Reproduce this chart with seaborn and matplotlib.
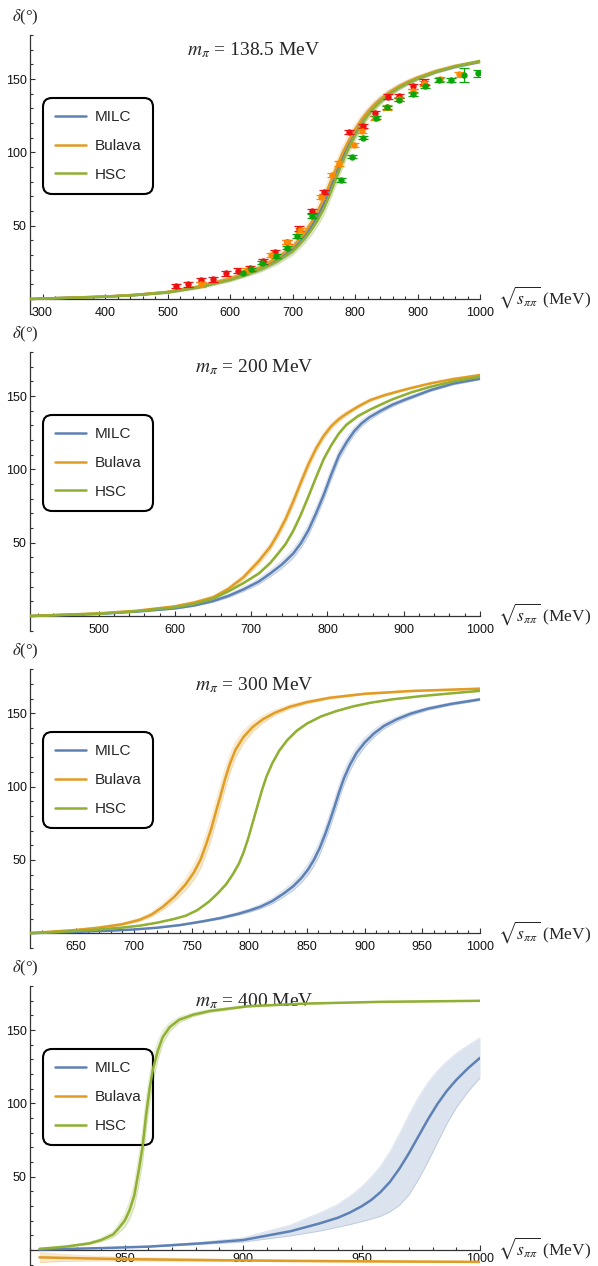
import numpy as np
import matplotlib
matplotlib.use("Agg")
import matplotlib.pyplot as plt
from matplotlib.ticker import MultipleLocator, FixedLocator
import seaborn as sns

# ---------------- data ----------------
SERIES = ["MILC", "Bulava", "HSC"]
COLORS = {"MILC": "#5E81B5", "Bulava": "#E19C24", "HSC": "#8FB032"}
PION_MASSES = ["138.5", "200", "300", "400"]
X_RANGES = [(280, 1000), (410, 1000), (610, 1000), (810, 1000)]
X_MAJOR = [100, 100, 50, 50]
X_MINOR = [20, 20, 10, 10]
Y_TICKS = [50, 100, 150]

# panel 1: m_pi = 138.5 MeV
P1_X = [280, 300, 350, 400, 450, 500, 550, 600, 625, 650, 675, 700, 710, 720,
        730, 740, 750, 760, 770, 780, 790, 800, 810, 820, 830, 840, 855, 870,
        885, 900, 930, 960, 1000]
P1_MILC = [0, 0.3, 1.0, 1.6, 2.8, 4.6, 8.2, 13.5, 17, 21, 26.6, 34, 38.5, 43.5,
           49.5, 56.5, 65, 75, 86, 96.5, 105.5, 113.5, 120.5, 126.3, 131.2,
           135.3, 140.3, 144.3, 147.6, 150.4, 155, 158.4, 161.8]
P1_BULAVA = [0, 0.3, 1.0, 1.7, 2.9, 4.8, 8.5, 14, 17.6, 22, 28, 35.5, 40.3,
             45.5, 52, 59.5, 68.5, 79, 89.5, 99.5, 108, 115.5, 122, 127.5,
             132.2, 136, 141, 145, 148.2, 151, 155.5, 158.8, 162]
P1_HSC = [0, 0.3, 0.9, 1.5, 2.7, 4.5, 8, 13, 16.4, 20.3, 25.5, 32.5, 36.8, 41.5,
          47, 53.5, 61.5, 71.5, 82.5, 93.5, 103, 111.5, 118.8, 125, 130.2,
          134.5, 139.8, 144, 147.4, 150.3, 155, 158.6, 162.2]
P1_BAND = [0, 0.1, 0.3, 0.4, 0.6, 0.8, 1, 1.3, 1.5, 1.8, 2.2, 2.8, 3, 3.3, 3.6,
           4, 4.5, 4.5, 4.5, 4.3, 4, 3.6, 3.2, 2.8, 2.5, 2.3, 2, 1.7, 1.5, 1.3,
           1.1, 1, 0.9]

# experimental points (panel 1)
RED_X = [513, 533, 553, 573, 593, 612, 632, 652, 672, 691, 711, 731, 750, 790,
         813, 832, 852, 871, 892, 911]
RED_Y = [8.9, 10, 13, 13.4, 17.5, 19.3, 20.9, 25.7, 32, 39, 48, 60, 73, 114,
         118, 126.6, 138, 138.6, 145, 148.2]
RED_ERR = [1.5] * 20
ORANGE_X = [553, 626, 665, 691, 712, 745, 763, 774, 799, 811, 832, 851, 871,
            892, 911, 936, 966]
ORANGE_Y = [10, 19.3, 30, 38.7, 47, 69.7, 84.5, 92.5, 105, 114.5, 123.6, 130.7,
            136.4, 142, 147, 149.8, 153.2]
ORANGE_ERR = [1.5] * 17
GREEN_X = [620, 633, 651, 673, 691, 707, 731, 777, 795, 813, 834, 851, 871, 892,
           912, 934, 954, 975, 996]
GREEN_Y = [18, 20.2, 24.8, 29.3, 35, 43, 56.6, 81, 97, 110, 123.6, 130.7, 136,
           139.8, 145, 149.3, 149.3, 152.7, 153.9]
GREEN_ERR = [1.2, 1.2, 1.2, 1.2, 1.2, 1.2, 1.2, 1.2, 1.2, 1.2, 1.2, 1.2, 1.2,
             1.2, 1.2, 1.2, 1.2, 4.8, 2.5]

# panel 2: m_pi = 200 MeV
P2_BULAVA_X = [410, 450, 500, 550, 600, 625, 650, 670, 690, 710, 725, 735, 745,
               755, 765, 775, 785, 795, 805, 815, 825, 840, 856, 875, 891, 910,
               935, 965, 1000]
P2_BULAVA_Y = [0, 0.8, 1.8, 3.6, 6.6, 9.2, 12.8, 18.5, 26.5, 37.5, 47.2, 56, 66,
               78, 91, 103.5, 114.2, 122.8, 129.5, 134.3, 138, 142.8, 147.2,
               150.6, 152.9, 155.5, 158.6, 161.6, 164.3]
P2_BULAVA_B = [0, 0.1, 0.2, 0.3, 0.5, 0.7, 1, 1.3, 1.7, 2.2, 2.5, 2.8, 3, 3.2,
               3.2, 3, 2.7, 2.3, 2, 1.7, 1.5, 1.2, 1, 0.8, 0.7, 0.6, 0.5, 0.45,
               0.4]
P2_HSC_X = [410, 450, 500, 550, 600, 625, 650, 670, 690, 710, 725, 735, 745, 755,
            765, 775, 785, 795, 805, 815, 825, 840, 855, 870, 885, 910, 935, 965,
            1000]
P2_HSC_Y = [0, 0.7, 1.6, 3.3, 5.9, 8.2, 11.8, 16.8, 22.5, 29, 36.2, 42.5, 49,
            58, 69, 81.5, 94.5, 107, 116.5, 124.5, 130.5, 136.3, 140.5, 144.2,
            147.7, 152.5, 156.3, 160, 163.2]
P2_HSC_B = [0, 0.05, 0.1, 0.2, 0.3, 0.35, 0.4, 0.5, 0.6, 0.7, 0.8, 0.9, 1, 1.1,
            1.2, 1.2, 1.2, 1.1, 1, 0.9, 0.8, 0.7, 0.6, 0.5, 0.4, 0.35, 0.3, 0.3,
            0.3]
P2_MILC_X = [410, 450, 500, 550, 600, 625, 650, 670, 690, 710, 725, 740, 755,
             765, 775, 785, 795, 805, 815, 825, 835, 845, 855, 870, 885, 900,
             935, 965, 1000]
P2_MILC_Y = [0, 0.6, 1.4, 3, 5.2, 7.2, 10.2, 13.7, 18.2, 23.5, 29, 35, 42.5,
             49.5, 58.5, 70, 82.5, 96.5, 109.5, 118.5, 126, 131.5, 135.5, 140,
             144, 147.2, 154, 158.5, 161.8]
P2_MILC_B = [0, 0.1, 0.2, 0.3, 0.5, 0.7, 0.9, 1.2, 1.5, 1.9, 2.3, 2.7, 3.1, 3.4,
             3.7, 3.8, 3.8, 3.7, 3.4, 3, 2.6, 2.2, 1.9, 1.6, 1.4, 1.2, 1, 0.9,
             0.8]

# panel 3: m_pi = 300 MeV
P3_BULAVA_X = [610, 630, 650, 670, 690, 705, 715, 725, 735, 745, 752, 758, 763,
               767, 771, 775, 779, 783, 788, 795, 803, 812, 822, 835, 850, 870,
               900, 940, 1000]
P3_BULAVA_Y = [0.2, 1.2, 2.3, 3.9, 6.2, 9.2, 12.6, 18, 24.8, 33.5, 41.5, 50.5,
               61.5, 71, 82.5, 93.5, 105, 115, 125, 133.8, 140.7, 146, 150.3,
               154.4, 157.6, 160.6, 163.3, 165.2, 166.8]
P3_BULAVA_B = [0, 0.2, 0.3, 0.5, 0.8, 1.1, 1.5, 2.2, 3, 4, 5, 6, 6.8, 7.2, 7.4,
               7.4, 7.2, 6.5, 5.5, 4.3, 3.3, 2.5, 1.9, 1.4, 1.1, 0.8, 0.6, 0.5,
               0.4]
P3_HSC_X = [610, 630, 650, 670, 690, 705, 720, 735, 745, 755, 765, 773, 780, 786,
            791, 795, 799, 803, 807, 811, 815, 820, 826, 833, 841, 850, 862, 875,
            890, 905, 925, 950, 975, 1000]
P3_HSC_Y = [0.1, 0.8, 1.6, 2.6, 3.9, 5.2, 7.2, 9.8, 12, 15.8, 21.5, 27.5, 33.5,
            40.5, 47.5, 55, 64.5, 75.5, 86.5, 97.5, 107, 116, 124.5, 131.8, 138,
            143, 147.8, 151.4, 154.7, 157.2, 159.6, 161.8, 163.6, 165.3]
P3_HSC_B = [0, 0.05, 0.1, 0.1, 0.15, 0.2, 0.25, 0.3, 0.35, 0.4, 0.5, 0.6, 0.7,
            0.8, 0.9, 1, 1, 1, 1, 1, 0.95, 0.9, 0.8, 0.7, 0.6, 0.5, 0.45, 0.4,
            0.35, 0.3, 0.25, 0.2, 0.2, 0.2]
P3_MILC_X = [610, 650, 680, 700, 720, 740, 760, 775, 790, 800, 810, 820, 830,
             838, 845, 851, 856, 861, 866, 870, 874, 878, 882, 887, 893, 900,
             908, 917, 928, 940, 955, 975, 1000]
P3_MILC_Y = [0.1, 1.0, 1.8, 2.6, 3.8, 5.6, 8.2, 10.4, 13.2, 15.5, 18.2, 22,
             27.2, 32, 37.5, 43.5, 50, 58, 68, 77, 86.5, 96.5, 105.5, 114.5, 123,
             130, 136.2, 141.5, 146, 149.8, 153.2, 156.4, 159.5]
P3_MILC_B = [0, 0.1, 0.15, 0.2, 0.3, 0.4, 0.6, 0.8, 1, 1.2, 1.5, 1.9, 2.4, 2.8,
             3.3, 3.8, 4.3, 4.7, 5, 5.1, 5.1, 5, 4.8, 4.4, 3.8, 3.2, 2.6, 2.1,
             1.7, 1.4, 1.1, 0.9, 0.8]

# panel 4: m_pi = 400 MeV
P4_HSC_X = [814, 825, 835, 840, 845, 847, 850, 852, 854, 856, 857.5, 859, 860.5,
            862, 864, 866, 869, 873, 879, 886, 902, 926, 958, 1000]
P4_HSC_Y = [0.8, 2.3, 4.5, 6.8, 10.5, 14, 20, 27, 37, 55, 70, 92, 110, 124, 136,
            145, 152, 157, 160.5, 163, 166.2, 168, 169.2, 169.9]
P4_HSC_B = [0.2, 0.4, 0.8, 1.2, 2, 3, 4.5, 6, 8, 10, 11, 11, 10, 8.5, 6.5, 4.5,
            3, 2, 1.3, 1, 0.6, 0.4, 0.3, 0.3]
P4_MILC_X = [814, 840, 860, 882, 900, 920, 932, 940, 945, 950, 954, 958, 962,
             966, 970, 974, 978, 982, 986, 990, 995, 1000]
P4_MILC_Y = [0.3, 1.3, 2.3, 4.5, 6.8, 12.8, 18, 22, 25.5, 29.8, 34, 39.5, 46.5,
             55.5, 66, 77.5, 89, 99.5, 108.5, 116, 124, 131]
P4_MILC_LO = [0.2, 1.1, 2.0, 3.8, 5.4, 9.6, 12.8, 15.5, 17.3, 19.3, 21, 23, 26,
              30.5, 37.5, 48, 60, 73, 86, 97, 108, 117.3]
P4_MILC_HI = [0.4, 1.5, 2.7, 5.3, 8.3, 17, 25, 31, 36.5, 43, 49.5, 57, 67, 79,
              92, 104, 114, 122, 128.5, 134, 139.5, 144.6]
P4_BULAVA_X = [814, 822, 833, 850, 880, 920, 960, 1000]
P4_BULAVA_Y = [-5, -5.3, -5.7, -6.2, -6.8, -7.4, -7.8, -8.1]
P4_BULAVA_B = [3.6, 2.6, 1.8, 1.2, 0.8, 0.6, 0.5, 0.5]


def band(y, h):
    y = np.asarray(y, float)
    h = np.asarray(h, float)
    return y - h, y + h


PANELS = [
    {"MILC": (P1_X, P1_MILC, *band(P1_MILC, P1_BAND)),
     "Bulava": (P1_X, P1_BULAVA, *band(P1_BULAVA, P1_BAND)),
     "HSC": (P1_X, P1_HSC, *band(P1_HSC, P1_BAND))},
    {"MILC": (P2_MILC_X, P2_MILC_Y, *band(P2_MILC_Y, P2_MILC_B)),
     "Bulava": (P2_BULAVA_X, P2_BULAVA_Y, *band(P2_BULAVA_Y, P2_BULAVA_B)),
     "HSC": (P2_HSC_X, P2_HSC_Y, *band(P2_HSC_Y, P2_HSC_B))},
    {"MILC": (P3_MILC_X, P3_MILC_Y, *band(P3_MILC_Y, P3_MILC_B)),
     "Bulava": (P3_BULAVA_X, P3_BULAVA_Y, *band(P3_BULAVA_Y, P3_BULAVA_B)),
     "HSC": (P3_HSC_X, P3_HSC_Y, *band(P3_HSC_Y, P3_HSC_B))},
    {"MILC": (P4_MILC_X, P4_MILC_Y, P4_MILC_LO, P4_MILC_HI),
     "Bulava": (P4_BULAVA_X, P4_BULAVA_Y, *band(P4_BULAVA_Y, P4_BULAVA_B)),
     "HSC": (P4_HSC_X, P4_HSC_Y, *band(P4_HSC_Y, P4_HSC_B))},
]

EXP = [(RED_X, RED_Y, RED_ERR, "#EE1111"),
       (ORANGE_X, ORANGE_Y, ORANGE_ERR, "#FF8A00"),
       (GREEN_X, GREEN_Y, GREEN_ERR, "#0AA50A")]

# ---------------- style ----------------
sns.set_theme(style="white")
plt.rcParams["font.family"] = ["Liberation Sans", "DejaVu Sans"]
plt.rcParams["mathtext.fontset"] = "stix"
SERIF = ["Liberation Serif", "DejaVu Serif"]
AXC = "#333333"

W, H = 598, 1266
fig = plt.figure(figsize=(W / 100, H / 100), dpi=100)

PX_PER_DEG = 1.4667
TOPS = [35, 352, 669.3, 986]
YLIMS = [(-10, 180), (-10, 180), (-10, 180), (-10.9, 180)]
XPADS = [5.5, 5.5, 5.5, 2.2]
LEFT_PX, RIGHT_PX = 30, 480

for i, panel in enumerate(PANELS):
    y0, y1 = YLIMS[i]
    hpx = (y1 - y0) * PX_PER_DEG
    top = TOPS[i]
    ax = fig.add_axes([LEFT_PX / W, 1 - (top + hpx) / H,
                       (RIGHT_PX - LEFT_PX) / W, hpx / H])
    ax.set_facecolor("none")

    for name in SERIES:
        x, y, lo, hi = panel[name]
        c = COLORS[name]
        ax.fill_between(x, lo, hi, color=c, alpha=0.22, lw=0, zorder=1)
        ax.plot(x, lo, color=c, alpha=0.25, lw=0.6, zorder=1)
        ax.plot(x, hi, color=c, alpha=0.25, lw=0.6, zorder=1)
        sns.lineplot(x=x, y=y, ax=ax, color=c, linewidth=1.8, label=name,
                     sort=False, estimator=None, zorder=3)

    if i == 0:
        for ex, ey, ee, ec in EXP:
            ax.errorbar(ex, ey, yerr=ee, fmt="o", color=ec, ms=3.6,
                        elinewidth=0.9, capsize=3.6, capthick=0.9, zorder=4)

    ax.set_xlim(*X_RANGES[i])
    ax.set_ylim(y0, y1)
    ax.set_xlabel("")
    ax.set_ylabel("")

    # axes in Mathematica style
    for s in ["top", "right"]:
        ax.spines[s].set_visible(False)
    ax.spines["bottom"].set_position(("data", 0))
    for s in ["left", "bottom"]:
        ax.spines[s].set_color(AXC)
        ax.spines[s].set_linewidth(0.9)

    ax.xaxis.set_major_locator(MultipleLocator(X_MAJOR[i]))
    ax.xaxis.set_minor_locator(MultipleLocator(X_MINOR[i]))
    ax.yaxis.set_major_locator(FixedLocator(Y_TICKS))
    ax.yaxis.set_minor_locator(MultipleLocator(10))
    ax.tick_params(which="both", direction="in", color=AXC, width=0.8,
                   labelsize=9, labelcolor="#111111")
    ax.tick_params(which="major", length=3.6)
    ax.tick_params(which="minor", length=2.0)
    ax.tick_params(axis="x", which="both", pad=XPADS[i], bottom=True)
    ax.tick_params(axis="y", which="both", pad=2.4, left=True)

    # legend
    handles, labels = ax.get_legend_handles_labels()
    leg = ax.legend(handles[:3], labels[:3], loc="upper left",
                    bbox_to_anchor=(0.029, 0.774), borderaxespad=0,
                    fontsize=11, frameon=True, fancybox=True,
                    handlelength=2.0, handletextpad=0.6, labelspacing=0.98,
                    borderpad=0.78)
    fr = leg.get_frame()
    fr.set_edgecolor("black")
    fr.set_linewidth(1.5)
    fr.set_facecolor("none")
    fr.set_alpha(None)
    fr.set_boxstyle("round", pad=0, rounding_size=0.6)
    leg.set_zorder(2)

    # title inside panel
    ax.annotate(r"$m_\pi$ = " + PION_MASSES[i] + " MeV", xy=(0.498, 1),
                xycoords="axes fraction", xytext=(0, -14.9),
                textcoords="offset points", ha="center", va="baseline",
                fontsize=14, family=SERIF, zorder=2)
    # y label above axis
    ax.annotate(r"$\delta$(°)", xy=(0, 1), xycoords="axes fraction",
                xytext=(-3.6, 9.7), textcoords="offset points",
                ha="center", va="baseline", fontsize=12, family=SERIF,
                annotation_clip=False)
    # x label right of axis
    ax.annotate(r"$\sqrt{s_{\pi\pi}}$ (MeV)", xy=(1, 0),
                xycoords=("axes fraction", "data"), xytext=(13, -3.6),
                textcoords="offset points", ha="left", va="baseline",
                fontsize=12.5, family=SERIF, annotation_clip=False)

fig.savefig("out.png", dpi=100)
